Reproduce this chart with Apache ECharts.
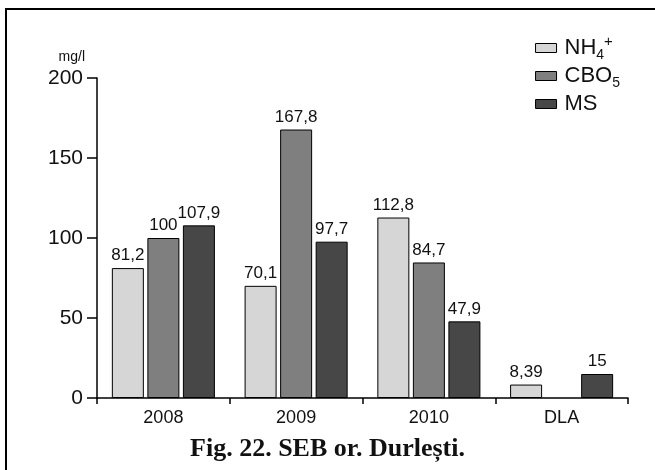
<!DOCTYPE html>
<html>
<head>
<meta charset="utf-8">
<script src="https://cdn.jsdelivr.net/npm/echarts@6/dist/echarts.min.js"></script>
<style>html,body{margin:0;padding:0;background:#fff;}#c{width:655px;height:470px;}</style>
</head>
<body>
<div id="c"></div>
<script>
const categories = ['2008', '2009', '2010', 'DLA'];
const nh4 = [81.2, 70.1, 112.8, 8.39];
const cbo5 = [100, 167.8, 84.7, null];
const ms = [107.9, 97.7, 47.9, 15];
const seriesNames = ['NH4+', 'CBO5', 'MS'];
const yTicks = [0, 50, 100, 150, 200];

const FONT = '"Liberation Sans", Arial, sans-serif';
const colors = ['#d6d6d6', '#7f7f7f', '#474747'];

function fmt(p) { return p.value == null ? '' : String(p.value).replace('.', ','); }

const chart = echarts.init(document.getElementById('c'));
const mkSeries = (name, data, i) => ({
  name: name, type: 'bar', data: data,
  barWidth: 32, barGap: '11%',
  itemStyle: { color: colors[i], borderColor: '#000', borderWidth: 1 },
  label: { show: true, position: 'top', distance: 4, formatter: fmt,
           fontFamily: FONT, fontSize: 17, color: '#111' }
});
chart.setOption({
  animation: false,
  backgroundColor: '#fff',
  grid: { left: 97, right: 27, top: 78, bottom: 72 },
  graphic: [{ type: 'rect', shape: { x: 6, y: 9, width: 700, height: 520 },
              style: { fill: 'none', stroke: '#000', lineWidth: 2 } }],
  title: { text: 'Fig. 22. SEB or. Durlești.', left: 'center', top: 431,
           textStyle: { fontFamily: '"Liberation Serif", "DejaVu Serif", serif', fontWeight: 'bold', fontSize: 26, color: '#111' } },
  legend: {
    orient: 'vertical', right: 30, top: 29, itemWidth: 21, itemHeight: 9, itemGap: 0,
    icon: 'rect',
    data: seriesNames.map((n, i) => ({ name: n, itemStyle: { borderColor: '#000', borderWidth: 1 } })),
    formatter: function (n) {
      if (n === 'NH4+') return 'NH{sub|4}{sup|+}';
      if (n === 'CBO5') return 'CBO{sub|5}';
      return n;
    },
    textStyle: { fontFamily: FONT, fontSize: 22, lineHeight: 28, color: '#111', padding: [0, 0, 0, 3],
      rich: {
        sub: { fontFamily: FONT, fontSize: 14, lineHeight: 18, color: '#111', verticalAlign: 'bottom' },
        sup: { fontFamily: FONT, fontSize: 15, lineHeight: 14, color: '#111', verticalAlign: 'top' }
      } }
  },
  xAxis: {
    type: 'category', data: categories,
    axisLine: { lineStyle: { color: '#000', width: 1.5 } },
    axisTick: { show: true, length: 6, lineStyle: { color: '#000', width: 1.5 } },
    axisLabel: { fontFamily: FONT, fontSize: 18, color: '#111', margin: 11 }
  },
  yAxis: {
    type: 'value', min: 0, max: 200, interval: 50,
    name: 'mg/l', nameLocation: 'end', nameGap: 14,
    nameTextStyle: { fontFamily: FONT, fontSize: 14, color: '#111', align: 'right', padding: [0, 12, 0, 0] },
    axisLine: { show: true, lineStyle: { color: '#000', width: 1.5 } },
    axisTick: { show: true, length: 10, lineStyle: { color: '#000', width: 1.5 } },
    axisLabel: { fontFamily: FONT, fontSize: 21, color: '#111', margin: 14,
                 formatter: v => yTicks.includes(v) ? String(v) : '' },
    splitLine: { show: false }
  },
  series: [mkSeries(seriesNames[0], nh4, 0), mkSeries(seriesNames[1], cbo5, 1), mkSeries(seriesNames[2], ms, 2)]
});
</script>
</body>
</html>
